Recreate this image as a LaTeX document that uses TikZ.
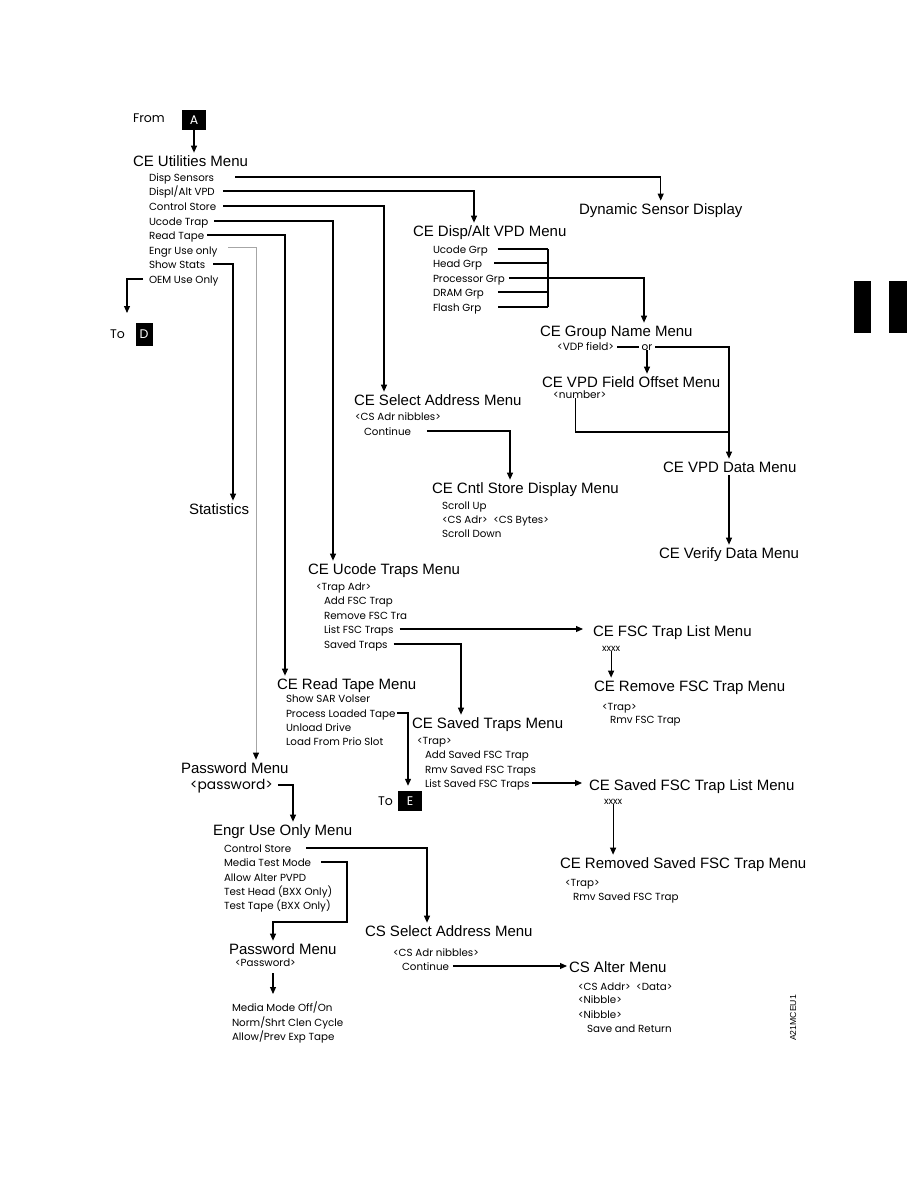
\documentclass[tikz,border=0pt]{standalone}
\usepackage{fontspec}
\setmainfont{Liberation Sans}
\newfontfamily\popp{Poppins}
\usetikzlibrary{arrows.meta}
\newcommand\ttlf{\fontsize{15}{18}\selectfont}
\newcommand\itmf{\popp\fontsize{10.3}{12}\selectfont}
\newcommand\smlf{\popp\fontsize{10.5}{12}\selectfont}
\newcommand\xxf{\popp\fontsize{9.5}{11}\selectfont}
\newcommand\bigf{\popp\fontsize{12.5}{15}\selectfont}
\newcommand\pwf{\popp\fontsize{13.8}{16}\selectfont}
\begin{document}
\begin{tikzpicture}[x=1pt,y=-1pt,
  ttl/.style={font=\ttlf, inner sep=0pt, outer xsep=0pt, outer ysep=3pt, text height=10.7pt, text depth=0pt, anchor=west},
  itm/.style={font=\itmf, inner sep=0pt, outer sep=0pt, text height=8pt, text depth=0pt, anchor=west},
  sml/.style={font=\smlf, inner sep=0pt, outer sep=0pt, text height=6pt, text depth=0pt, anchor=west},
  xxs/.style={font=\xxf, inner sep=0pt, outer sep=0pt, text height=6pt, text depth=0pt, anchor=west},
  big/.style={font=\bigf, inner sep=0pt, outer sep=0pt, text height=9.5pt, text depth=0pt, anchor=west},
  lbl/.style={fill=black, text=white, font=\bigf, minimum width=24pt, minimum height=20pt, inner sep=0pt},
  ln/.style={line width=1.1pt, black},
  arr/.style={ln, -{Triangle[length=7pt,width=6pt]}},
  garr/.style={line width=0.9pt, draw=black!35, -{Triangle[length=7pt,width=6pt,color=black]}}
]
\useasboundingbox (0,0) rectangle (918,1188);
\fill[white] (0,0) rectangle (918,1188);

% top
\node[big] (from) at (133,118) {From};
\node[lbl] (A) at (194,120) {A};
\node[ttl] (util) at (133,161) {CE Utilities Menu};
\node[itm] (ds) at (149,177) {Disp Sensors};
\node[itm] (dv) at (149,191) {Displ/Alt VPD};
\node[itm] (cs) at (149,206) {Control Store};
\node[itm] (ut) at (149,221) {Ucode Trap};
\node[itm] (rt) at (149,235) {Read Tape};
\node[itm] (eu) at (149,250) {Engr Use only};
\node[itm] (ss) at (149,264) {Show Stats};
\node[itm] (oem) at (149,279) {OEM Use Only};
\node[big] (toD) at (110,334) {To};
\node[lbl, minimum width=17pt, minimum height=23pt] (D) at (144,334) {D};
\coordinate (dtip) at (127,313);

% VPD branch
\node[ttl] (dsd) at (579,209) {Dynamic Sensor Display};
\node[ttl] (dvm) at (413,231) {CE Disp/Alt VPD Menu};
\node[itm] (g1) at (433,249) {Ucode Grp};
\node[itm] (g2) at (433,263) {Head Grp};
\node[itm] (g3) at (433,278) {Processor Grp};
\node[itm] (g4) at (433,292) {DRAM Grp};
\node[itm] (g5) at (433,307) {Flash Grp};
\coordinate (bus) at (548,278);
\node[ttl] (gnm) at (540,331) {CE Group Name Menu};
\node[sml] (vdp) at (557,347) {<VDP field>};
\node[sml, anchor=center] (or) at (647,347) {or};
\coordinate (jn) at (729,432);
\node[ttl] (fom) at (542,382) {CE VPD Field Offset Menu};
\node[sml] (num) at (553,395) {<number>};
\node[ttl] (vdm) at (663,467) {CE VPD Data Menu};
\node[ttl] (vfy) at (659,553) {CE Verify Data Menu};

% control store
\node[ttl] (sam) at (354,400) {CE Select Address Menu};
\node[itm] (san) at (355,416) {<CS Adr nibbles>};
\node[itm] (cont) at (364,431) {Continue};
\node[ttl] (csd) at (432,488) {CE Cntl Store Display Menu};
\node[itm] (su) at (442,505) {Scroll Up};
\node[itm] (cab) at (442,519) {<CS Adr>\ \ <CS Bytes>};
\node[itm] (sd) at (442,533) {Scroll Down};

\node[ttl] (stat) at (189,509) {Statistics};

% ucode traps
\node[ttl] (utm) at (308,569) {CE Ucode Traps Menu};
\node[itm] (ta) at (316,586) {<Trap Adr>};
\node[itm] (af) at (324,600) {Add FSC Trap};
\node[itm] (rf) at (324,615) {Remove FSC Tra};
\node[itm] (lf) at (324,629) {List FSC Traps};
\node[itm] (st) at (324,644) {Saved Traps};
\node[ttl] (fl) at (593,631) {CE FSC Trap List Menu};
\node[xxs] (xx1) at (602,648) {xxxx};
\node[ttl] (rfm) at (594,686) {CE Remove FSC Trap Menu};
\node[itm] (trp1) at (602,706) {<Trap>};
\node[itm] (rmv1) at (610,719) {Rmv FSC Trap};

% read tape
\node[ttl] (rtm) at (277,684) {CE Read Tape Menu};
\node[itm] (ssv) at (286,698) {Show SAR Volser};
\node[itm] (plt) at (286,713) {Process Loaded Tape};
\node[itm] (uld) at (286,727) {Unload Drive};
\node[itm] (lfp) at (286,741) {Load From Prio Slot};
\node[big] (toE) at (378,801) {To};
\node[lbl] (E) at (410,801) {E};

% saved traps
\node[ttl] (stm) at (412,723) {CE Saved Traps Menu};
\node[itm] (trp2) at (417,740) {<Trap>};
\node[itm] (asf) at (425,754) {Add Saved FSC Trap};
\node[itm] (rsf) at (425,769) {Rmv Saved FSC Traps};
\node[itm] (lsf) at (425,783) {List Saved FSC Traps};
\node[ttl] (sfl) at (589,785) {CE Saved FSC Trap List Menu};
\node[xxs] (xx2) at (604,801) {xxxx};
\node[ttl] (rsm) at (560,863) {CE Removed Saved FSC Trap Menu};
\node[itm] (trp3) at (565,882) {<Trap>};
\node[itm] (rsf2) at (573,896) {Rmv Saved FSC Trap};

% password / engr
\node[ttl] (pw) at (181,768) {Password Menu};
\node[big, font=\pwf] (pwd) at (190,785) {<password>};
\node[ttl] (eum) at (213,830) {Engr Use Only Menu};
\node[itm] (ecs) at (224,848) {Control Store};
\node[itm] (mtm) at (224,862) {Media Test Mode};
\node[itm] (aap) at (224,877) {Allow Alter PVPD};
\node[itm] (thd) at (224,891) {Test Head (BXX Only)};
\node[itm] (ttp) at (224,905) {Test Tape (BXX Only)};
\coordinate (mb) at (347,922);
\node[ttl] (pw2) at (229,949) {Password Menu};
\node[itm] (pwd2) at (235,962) {<Password>};
\node[itm] (mm1) at (232,1007) {Media Mode Off/On};
\node[itm] (mm2) at (232,1022) {Norm/Shrt Clen Cycle};
\node[itm] (mm3) at (232,1036) {Allow/Prev Exp Tape};

\node[ttl] (csa) at (365,931) {CS Select Address Menu};
\node[itm] (csn) at (393,952) {<CS Adr nibbles>};
\node[itm] (cc) at (402,966) {Continue};
\node[ttl] (alt) at (569,967) {CS Alter Menu};
\node[itm] (a1) at (578,986) {<CS Addr>\ \ <Data>};
\node[itm] (a2) at (578,999) {<Nibble>};
\node[itm] (a3) at (578,1014) {<Nibble>};
\node[itm] (a4) at (587,1028) {Save and Return};

\node[rotate=90, font=\fontsize{8.7}{10}\selectfont, inner sep=0pt] (code) at (793,1018) {A21MCEU1};

% side tabs
\fill[black] (854,281) rectangle (871,333);
\fill[black] (889,281) rectangle (907,333);

% connectors
\draw[arr] (A.south) -- (A.south |- util.north);
\draw[arr] ([xshift=21pt]ds.east) -| (dsd.north);
\draw[arr] ([xshift=8pt]dv.east) -| ([xshift=61pt]dvm.north west);
\draw[arr] ([xshift=7pt]cs.east) -| ([xshift=30pt]sam.north west);
\draw[arr] ([xshift=6pt]ut.east) -| ([xshift=25pt]utm.north west);
\draw[arr] ([xshift=3pt]rt.east) -| ([xshift=8pt]rtm.north west);
\draw[garr] ([xshift=11pt,yshift=3pt]eu.east) -| ([xshift=75pt]pw.north west);
\draw[arr] ([xshift=8pt]ss.east) -| ([xshift=44pt]stat.north west);
\draw[arr] ([xshift=-6pt]oem.west) -| (dtip);

\foreach \n/\g in {g1/10,g2/12,g3/4,g4/14,g5/17}
  \draw[ln] ([xshift=\g pt]\n.east) -- (\n.east -| bus);
\draw[ln] (g1.east -| bus) -- (g5.east -| bus);
\draw[arr] (g3.east -| bus) -| ([xshift=104pt]gnm.north west);
\draw[ln] ([xshift=3pt]vdp.east) -- ([xshift=-3pt]or.west);
\draw[arr] (or.south) -- (or.south |- fom.north);
\draw[arr] ([xshift=3pt]or.east) -| (jn) -- (jn |- vdm.north);
\draw[ln] ([xshift=-4pt]num.south) |- (jn);
\draw[arr] (jn |- vdm.south) -- (jn |- vfy.north);

\draw[arr] ([xshift=16pt]cont.east) -| ([xshift=78pt]csd.north west);
\draw[arr, shorten >=10pt] ([xshift=6pt]lf.east) -- (lf.east -| fl.west);
\draw[arr] ([xshift=6pt]st.east) -| ([xshift=49pt]stm.north west);
\draw[arr] (xx1.south) -- (xx1.south |- rfm.north);
\draw[arr] ([xshift=2pt]plt.east) -| ([xshift=-2pt,yshift=5pt]E.north);
\draw[arr, shorten >=7pt] ([xshift=3pt]lsf.east) -- (lsf.east -| sfl.west);
\draw[arr] (xx2.south) -- (xx2.south |- rsm.north);
\draw[arr] ([xshift=5pt]pwd.east) -| ([xshift=80pt]eum.north west);
\draw[arr] ([xshift=15pt]ecs.east) -| ([xshift=62pt]csa.north west);
\draw[arr] ([xshift=10pt]mtm.east) -| (mb) -| ([xshift=44pt]pw2.north west);
\draw[arr] ([xshift=38pt,yshift=-7pt]pwd2.south west) -- ([xshift=41pt,yshift=9pt]mm1.north west);
\draw[arr, shorten >=2pt] ([xshift=4pt]cc.east) -- (cc.east -| alt.west);
\end{tikzpicture}
\end{document}
